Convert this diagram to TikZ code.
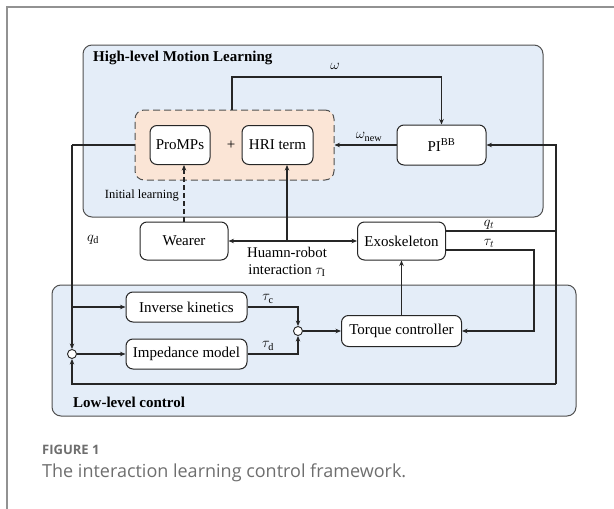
\documentclass[tikz,border=0pt]{standalone}
\usepackage{fontspec}
\setmainfont{Liberation Serif}
\newfontfamily\capfont{Open Sans}
\usetikzlibrary{arrows.meta,calc}
\definecolor{panelblue}{RGB}{228,237,248}
\definecolor{peach}{RGB}{251,229,214}
\definecolor{capgray}{RGB}{110,110,110}
\definecolor{edgegray}{RGB}{80,80,80}
\tikzset{
  x=1pt, y=-1pt,
  panel/.style={draw=edgegray, fill=panelblue, rounded corners=9pt, line width=1pt},
  blk/.style={draw=black!85, fill=white, rounded corners=7pt, line width=1pt,
    inner sep=0pt, font=\fontsize{15}{17}\selectfont},
  lbl/.style={font=\fontsize{14.5}{16}\selectfont, inner sep=1pt},
  sumpt/.style={circle, draw=black!85, fill=white, line width=0.9pt, minimum size=9pt, inner sep=0pt},
  conn/.style={draw=black!85, line width=1.05pt},
  arr/.style={conn, -{Stealth[length=5.5pt,width=4.5pt]}},
  darr/.style={conn, {Stealth[length=5.5pt,width=4.5pt]}-{Stealth[length=5.5pt,width=4.5pt]}},
  dasharr/.style={arr, dashed, dash pattern=on 5pt off 3pt},
}
\begin{document}
\begin{tikzpicture}
\useasboundingbox (0,0) rectangle (614,509);

% card frame
\draw[capgray!75, line width=1.3pt] (614,7) -- (7,7) -- (7,509);

% panels
\draw[panel] (83,45) rectangle (543,217);
\draw[panel] (52,285) rectangle (576,416);
\node[anchor=west, font=\fontsize{15}{17}\selectfont\bfseries, inner sep=0pt] (hltitle) at (93,58) {High-level Motion Learning};
\node[anchor=west, font=\fontsize{15}{17}\selectfont\bfseries, inner sep=0pt] (lltitle) at (73,402) {Low-level control};

% learning group
\node[draw=edgegray, fill=peach, dashed, dash pattern=on 7pt off 4pt, line width=1pt,
      rounded corners=9pt, minimum width=199pt, minimum height=70pt, inner sep=0pt] (grp) at (234.5,145) {};
\node[blk, minimum width=60pt, minimum height=39pt] (pro) at (180,145) {ProMPs};
\node[font=\fontsize{15}{17}\selectfont, inner sep=0pt] (plus) at (231,145) {+};
\node[blk, minimum width=71pt, minimum height=39pt] (hri) at (277.5,145) {HRI term};
\node[blk, minimum width=89pt, minimum height=40pt] (pi) at (441.5,145) {PI\textsuperscript{BB}};

% physical system
\node[blk, minimum width=88pt, minimum height=38pt] (wearer) at (184,241) {Wearer};
\node[blk, minimum width=88pt, minimum height=38pt] (exo) at (401.5,241) {Exoskeleton};

% low-level blocks
\node[blk, minimum width=121pt, minimum height=30pt] (ik) at (186.5,307) {Inverse kinetics};
\node[blk, minimum width=121pt, minimum height=30pt] (im) at (186.5,354) {Impedance model};
\node[blk, minimum width=120pt, minimum height=31pt] (tc) at (401.5,331) {Torque controller};
\node[sumpt] (sum) at (298,331) {};
\node[sumpt] (lsum) at (72,354) {};

% routing points
\coordinate (om) at (232,77);
\coordinate (qdl) at (72,145);
\coordinate (rb) at (556,384);
\coordinate (qt) at (446,231);
\coordinate (tt) at (534,250);
\coordinate (hrip) at (287,241);

% high-level connectors
\draw[arr] (grp.north -| om) -- (om) -| (pi.north);
\draw[arr] (pi.west) -- (grp.east);
\draw[conn] (grp.west) -- (qdl);
\draw[arr] (qdl) -- (lsum.north);
\draw[dasharr] (wearer.north) -- (wearer.north |- pro.south);
\draw[darr] (wearer.east) -- (exo.west);
\draw[arr] (hrip) -- (hrip |- hri.south);

% feedback from the exoskeleton
\draw[conn] (qt) -- (qt -| rb);
\draw[arr] (rb) |- (pi.east);
\draw[arr] (rb) -| (lsum.south);
\draw[arr] ($(exo.east)+(0,9)$) -- (tt) |- (tc.east);

% low-level connectors
\draw[arr] (qdl |- ik.west) -- (ik.west);
\draw[arr] (lsum.east) -- (im.west);
\draw[arr] (ik.east) -| (sum.north);
\draw[arr] (im.east) -| (sum.south);
\draw[arr] (sum.east) -- (tc.west);
\draw[arr] (tc.north) -- (exo.south);

% signal labels
\node[lbl] (lomega) at (335,66) {$\omega$};
\node[lbl] (lomnew) at (369,137) {$\omega_{\mathrm{new}}$};
\node[lbl, anchor=east, font=\fontsize{12.5}{14}\selectfont] (linit) at (180,196) {Initial learning};
\node[lbl] (lqd) at (93,240) {$q_{\mathrm{d}}$};
\node[lbl] (lqt) at (489,225) {$q_t$};
\node[lbl] (ltt) at (489,243) {$\tau_t$};
\node[lbl, align=center, font=\fontsize{14.8}{17}\selectfont] (lhri) at (287,262) {Huamn-robot\\interaction $\tau_{\mathrm{I}}$};
\node[lbl] (ltc) at (268,299) {$\tau_{\mathrm{c}}$};
\node[lbl] (ltd) at (268,346) {$\tau_{\mathrm{d}}$};

% caption
\node[anchor=west, inner sep=0pt, text=capgray, font=\capfont\bfseries\fontsize{13}{15}\selectfont] (fig) at (42,450) {FIGURE 1};
\node[anchor=west, inner sep=0pt, text=capgray, font=\capfont\fontsize{18}{21}\selectfont] (cap) at (42,473) {The interaction learning control framework.};
\end{tikzpicture}
\end{document}
